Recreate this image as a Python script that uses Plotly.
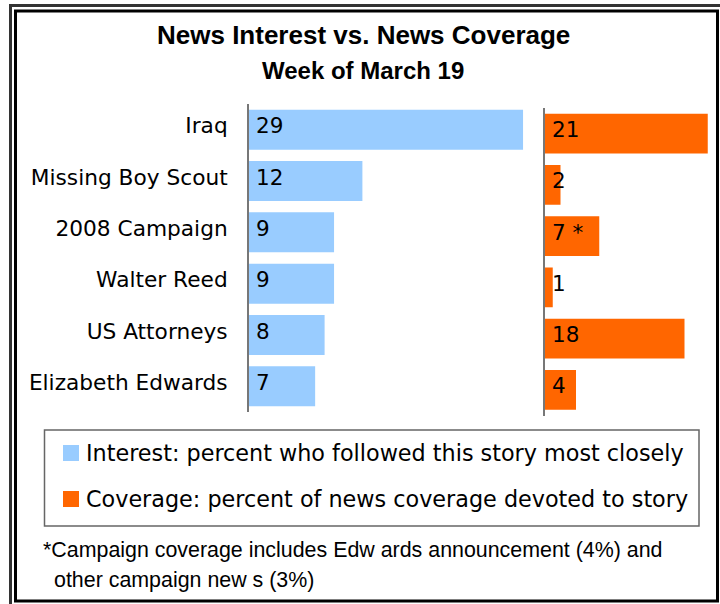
import plotly.graph_objects as go

W, H = 720, 604

categories = ["Iraq", "Missing Boy Scout", "2008 Campaign", "Walter Reed", "US Attorneys", "Elizabeth Edwards"]
interest = [29, 12, 9, 9, 8, 7]
coverage = [21, 2, 7, 1, 18, 4]
coverage_marks = ["", "", " *", "", "", ""]

title = "News Interest vs. News Coverage"
subtitle = "Week of March 19"
legend_labels = ["Interest: percent who followed this story most closely",
                 "Coverage: percent of news coverage devoted to story"]
footnote_lines = ["*Campaign coverage includes Edw ards announcement (4%) and",
                  "other campaign new s (3%)"]

BLUE = "#99CCFF"
ORANGE = "#FF6600"
FONT = "DejaVu Sans"
TFONT = "Liberation Sans"


def px(x):
    return x / W


def py(y):
    return 1 - y / H


fig = go.Figure()
fig.add_trace(go.Bar(y=categories, x=interest, orientation="h", marker=dict(color=BLUE, line=dict(width=0)),
                     width=0.78, xaxis="x", yaxis="y", showlegend=False, hoverinfo="skip"))
fig.add_trace(go.Bar(y=categories, x=coverage, orientation="h", marker=dict(color=ORANGE, line=dict(width=0)),
                     width=0.78, xaxis="x2", yaxis="y2", showlegend=False, hoverinfo="skip"))

annotations = []
for c, v in zip(categories, interest):
    annotations.append(dict(x=0, y=c, xref="x", yref="y", text=str(v), showarrow=False,
                            xanchor="left", yanchor="middle", xshift=5, yshift=4,
                            font=dict(family=FONT, size=21.5, color="black")))
for c, v, m in zip(categories, coverage, coverage_marks):
    annotations.append(dict(x=0, y=c, xref="x2", yref="y2", text=str(v) + m, showarrow=False,
                            xanchor="left", yanchor="middle", xshift=5, yshift=4,
                            font=dict(family=FONT, size=21.5, color="black")))

annotations.append(dict(x=px(363), y=py(35), xref="paper", yref="paper", text="<b>" + title + "</b>",
                        showarrow=False, xanchor="center", yanchor="middle",
                        font=dict(family=TFONT, size=26, color="black")))
annotations.append(dict(x=px(363), y=py(70), xref="paper", yref="paper", text="<b>" + subtitle + "</b>",
                        showarrow=False, xanchor="center", yanchor="middle",
                        font=dict(family=TFONT, size=24, color="black")))

legend_y = [453, 499]
legend_colors = [BLUE, ORANGE]
shapes = []
for lbl, ly, col in zip(legend_labels, legend_y, legend_colors):
    shapes.append(dict(type="rect", xref="paper", yref="paper", x0=px(63), x1=px(79), y0=py(ly - 8), y1=py(ly + 8),
                       fillcolor=col, line=dict(width=0)))
    annotations.append(dict(x=px(84), y=py(ly), xref="paper", yref="paper", text=lbl, showarrow=False,
                            xanchor="left", yanchor="middle",
                            font=dict(family=FONT, size=22.3, color="black")))

# legend box
shapes.append(dict(type="rect", xref="paper", yref="paper", x0=px(44.5), x1=px(699), y0=py(430), y1=py(526),
                   line=dict(color="#666666", width=1.5), fillcolor="rgba(0,0,0,0)"))

annotations.append(dict(x=px(41), y=py(550), xref="paper", yref="paper", text=footnote_lines[0], showarrow=False,
                        xanchor="left", yanchor="middle", font=dict(family=TFONT, size=21.4, color="black")))
annotations.append(dict(x=px(52), y=py(580), xref="paper", yref="paper", text=footnote_lines[1], showarrow=False,
                        xanchor="left", yanchor="middle", font=dict(family=TFONT, size=21.4, color="black")))

# double frame
shapes.append(dict(type="rect", xref="paper", yref="paper", x0=px(10.5), x1=px(730), y0=py(5.5), y1=py(620),
                   line=dict(color="#333333", width=3)))
shapes.append(dict(type="rect", xref="paper", yref="paper", x0=px(15.5), x1=px(717.5), y0=py(11), y1=py(601),
                   line=dict(color="black", width=3)))

left_scale = 9.45
right_scale = 7.75
lx0, lx1 = 249, 535
rx0, rx1 = 545, 712

fig.update_layout(
    width=W, height=H,
    margin=dict(l=0, r=0, t=0, b=0),
    paper_bgcolor="white", plot_bgcolor="white",
    bargap=0.22,
    xaxis=dict(domain=[px(lx0), px(lx1)], range=[0, (lx1 - lx0) / left_scale], visible=False, fixedrange=True),
    yaxis=dict(domain=[py(412), py(104)], autorange="reversed", showline=True, linecolor="#777777", linewidth=2,
               ticks="", showgrid=False, zeroline=False, ticklabelstandoff=15, ticklabelshift=4,
               tickfont=dict(family=FONT, size=21.7, color="black"), anchor="x", fixedrange=True),
    xaxis2=dict(domain=[px(rx0), px(rx1)], range=[0, (rx1 - rx0) / right_scale], visible=False, fixedrange=True,
                anchor="y2"),
    yaxis2=dict(domain=[py(415.5), py(108)], autorange="reversed", showline=True, linecolor="#777777",
                linewidth=2, ticks="", showgrid=False, zeroline=False, showticklabels=False, anchor="x2",
                fixedrange=True),
    annotations=annotations,
    shapes=shapes,
)

fig.write_html("out.html", config={"displayModeBar": False},
               post_script="document.body.style.margin='0';document.body.style.overflow='hidden';")
